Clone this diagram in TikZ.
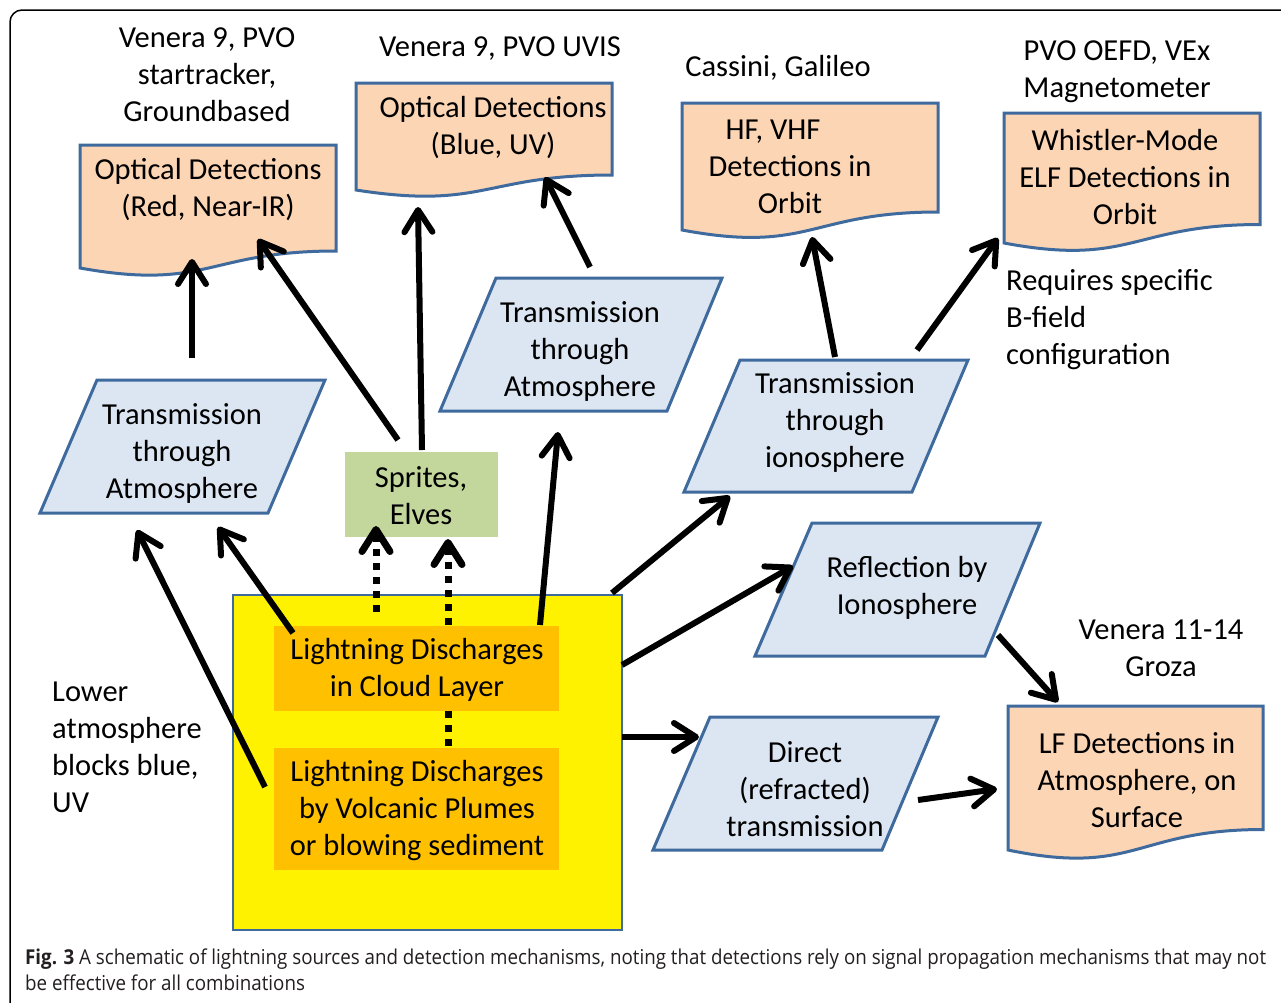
\documentclass[tikz,border=0pt]{standalone}
\usepackage{fontspec}
\setmainfont{Carlito}
\newfontfamily\capfont{Open Sans}[FakeStretch=0.915]
\usetikzlibrary{arrows.meta}
\definecolor{docfill}{HTML}{FCD5B5}
\definecolor{edgeblue}{HTML}{3F6A9E}
\definecolor{parfill}{HTML}{DCE6F2}
\definecolor{sprfill}{HTML}{C3D69B}
\definecolor{orng}{HTML}{FFC000}
\definecolor{captxt}{HTML}{231F20}
\begin{document}
\begin{tikzpicture}[x=1pt,y=-1pt,
  txt/.style={font=\fontsize{30.5}{37}\selectfont, align=center, inner sep=0pt},
  ltxt/.style={font=\fontsize{30.5}{37}\selectfont, align=left, inner sep=0pt, anchor=west},
  docbox/.style={draw=edgeblue, line width=3pt, fill=docfill},
  parbox/.style={draw=edgeblue, line width=3pt, fill=parfill},
  arr/.style={line width=6pt, -{Straight Barb[length=22pt,width=28pt,round]}},
  dotarr/.style={line width=7pt, dash pattern=on 7pt off 7pt, -{Straight Barb[length=22pt,width=28pt,round]}},
  dotln/.style={line width=7pt, dash pattern=on 7pt off 7pt}]
\useasboundingbox (0,0) rectangle (1281,1002);
\fill[white] (0,0) rectangle (1281,1002);
% outer frame
\draw[line width=1.5pt, rounded corners=12pt] (10,1015) -- (10,10) -- (1295,10);

% document shapes
\path[docbox] (80,145) -- (336,145) -- (336,251) .. controls (208,251) and (208,291) .. (80,268) -- cycle;
\path[docbox] (356,83) -- (612,83) -- (612,175) .. controls (484,175) and (484,210) .. (356,190) -- cycle;
\path[docbox] (682,103) -- (938,103) -- (938,212) .. controls (810,212) and (810,254) .. (682,230) -- cycle;
\path[docbox] (1004,113) -- (1260,113) -- (1260,224.5) .. controls (1132,224.5) and (1132,267) .. (1004,243) -- cycle;
\path[docbox] (1008,706) -- (1263,706) -- (1263,829.5) .. controls (1135.5,829.5) and (1135.5,876.5) .. (1008,850) -- cycle;

% parallelograms
\path[parbox] (97,380) -- (325,380) -- (268,513) -- (40,513) -- cycle;
\path[parbox] (496,278) -- (722,278) -- (667,411) -- (440,411) -- cycle;
\path[parbox] (740,360) -- (968,360) -- (912,492) -- (684,492) -- cycle;
\path[parbox] (812,523) -- (1040,523) -- (985,656) -- (755,656) -- cycle;
\path[parbox] (710,717) -- (938,717) -- (882,850) -- (653,850) -- cycle;

% sprites box
\fill[sprfill] (345,452) rectangle (498,537);
% yellow source box
\path[fill=yellow, draw=edgeblue, line width=2pt] (233,595) rectangle (622,930);
\fill[orng] (274,626) rectangle (559,711);
\fill[orng] (274,748) rectangle (559,870);

% texts in shapes
\node[txt] (d1) at (208,190) {Optical Detections\\(Red, Near-IR)};
\node[txt] (d2) at (493,128) {Optical Detections\\(Blue, UV)};
\node[txt] (d3) at (790,167) {HF, VHF\hspace*{34pt}\\Detections in\\Orbit};
\node[txt] (d4) at (1125,177) {Whistler-Mode\\ELF Detections in\\Orbit};
\node[txt] (d5) at (1137,780) {LF Detections in\\Atmosphere, on\\Surface};
\node[txt] (p1) at (182,453) {Transmission\\through\\Atmosphere};
\node[txt] (p2) at (580,351) {Transmission\\through\\Atmosphere};
\node[txt] (p3) at (835,422) {Transmission\\through\\ionosphere};
\node[txt] (p4) at (907,588) {Reflection by\\Ionosphere};
\node[txt] (p5) at (805,789) {Direct\\(refracted)\\transmission};
\node[txt] (spr) at (421,496) {Sprites,\\Elves};
\node[txt] (cl) at (417,670) {Lightning Discharges\\in Cloud Layer};
\node[txt] (vol) at (417,811) {Lightning Discharges\\by Volcanic Plumes\\or blowing sediment};

% free labels
\node[txt] (l1) at (207,75) {Venera 9, PVO\\startracker,\\Groundbased};
\node[txt] (l2) at (500,49) {Venera 9, PVO UVIS};
\node[txt] (l3) at (778,68) {Cassini, Galileo};
\node[txt] (l4) at (1117,72) {PVO OEFD, VEx\\Magnetometer};
\node[ltxt] (l5) at (1006,320) {Requires specific\\B-field\\configuration};
\node[txt] (l6) at (1161,648) {Venera 11-14\\Groza};
\node[ltxt] (l7) at (52,747) {Lower\\atmosphere\\blocks blue,\\UV};

% connector end points
\coordinate (a1s) at (192,358); \coordinate (a1e) at (192,259);
\coordinate (a2s) at (398,440); \coordinate (a2e) at (258,239);
\coordinate (a3s) at (422,450); \coordinate (a3e) at (418,207);
\coordinate (a4s) at (590,267); \coordinate (a4e) at (545,177);
\coordinate (a5s) at (540,625); \coordinate (a5e) at (558,432);
\coordinate (a6s) at (293,633); \coordinate (a6e) at (218,527);
\coordinate (a7s) at (265,787); \coordinate (a7e) at (137,530);
\coordinate (a8s) at (376,612); \coordinate (a8e) at (376,526);
\coordinate (a9s) at (448,625); \coordinate (a9e) at (448,539);
\coordinate (b1s) at (448,711); \coordinate (b1e) at (448,748);
\coordinate (a10s) at (612,593); \coordinate (a10e) at (730,496);
\coordinate (a11s) at (622,665); \coordinate (a11e) at (793,566);
\coordinate (a12s) at (622,737); \coordinate (a12e) at (699,737);
\coordinate (a13s) at (835,357); \coordinate (a13e) at (812,237);
\coordinate (a14s) at (917,350); \coordinate (a14e) at (998,238);
\coordinate (a15s) at (998,635); \coordinate (a15e) at (1058,702);
\coordinate (a16s) at (918,800); \coordinate (a16e) at (997,789);

\draw[arr] (a1s) -- (a1e);
\draw[arr] (a2s) -- (a2e);
\draw[arr] (a3s) -- (a3e);
\draw[arr] (a4s) -- (a4e);
\draw[arr] (a5s) -- (a5e);
\draw[arr] (a6s) -- (a6e);
\draw[arr] (a7s) -- (a7e);
\draw[dotarr] (a8s) -- (a8e);
\draw[dotarr] (a9s) -- (a9e);
\draw[dotln] (b1s) -- (b1e);
\draw[arr] (a10s) -- (a10e);
\draw[arr] (a11s) -- (a11e);
\draw[arr] (a12s) -- (a12e);
\draw[arr] (a13s) -- (a13e);
\draw[arr] (a14s) -- (a14e);
\draw[arr] (a15s) -- (a15e);
\draw[arr] (a16s) -- (a16e);

% caption
\node[anchor=north west, inner sep=0pt, font=\capfont\fontsize{20.5}{26}\selectfont, text=captxt, align=left] (cap) at (25,949)
  {\textbf{Fig. 3} A schematic of lightning sources and detection mechanisms, noting that detections rely on signal propagation mechanisms that may not\\be effective for all combinations};
\end{tikzpicture}
\end{document}
